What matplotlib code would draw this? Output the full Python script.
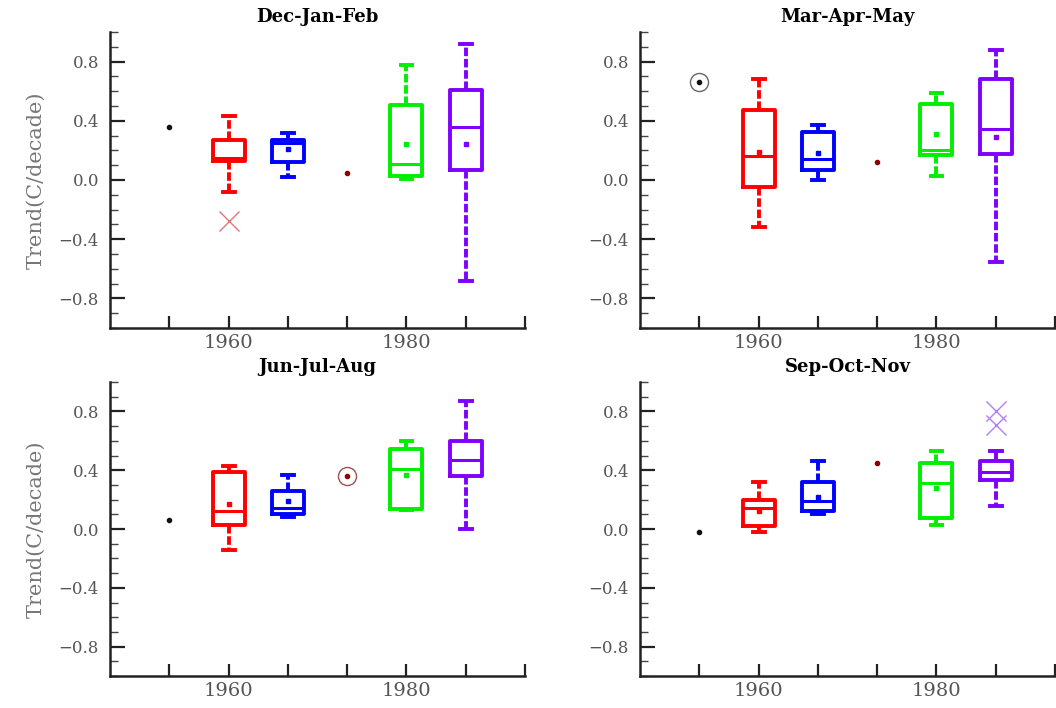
import matplotlib
matplotlib.use('Agg')
import matplotlib.pyplot as plt
import numpy as np

# seasons, one panel each
seasons = ['Dec-Jan-Feb', 'Mar-Apr-May', 'Jun-Jul-Aug', 'Sep-Oct-Nov']

# category slots on the x axis, only two get a label
slot_pos = [1, 2, 3, 4, 5, 6, 7]
slot_labels = ['', '1960', '', '', '1980', '', '']

# single values at slots 1 and 4
point_pos = [1, 4]
point_vals = [[0.36, 0.05], [0.66, 0.12], [0.06, 0.36], [-0.02, 0.45]]
point_circled = [[False, False], [True, False], [False, True], [False, False]]

# box groups (red, blue, green, purple) at slots 2, 3, 5, 6
box_pos = [2, 3, 5, 6]
whis_lo = [[-0.08, 0.02, 0.01, -0.68],
           [-0.32, 0.00, 0.03, -0.555],
           [-0.14, 0.08, 0.13, 0.00],
           [-0.02, 0.105, 0.03, 0.155]]
q1 = [[0.13, 0.125, 0.03, 0.07],
      [-0.05, 0.07, 0.17, 0.175],
      [0.025, 0.105, 0.135, 0.36],
      [0.02, 0.12, 0.075, 0.335]]
med = [[0.15, 0.25, 0.11, 0.36],
       [0.16, 0.14, 0.20, 0.345],
       [0.12, 0.145, 0.41, 0.47],
       [0.14, 0.19, 0.31, 0.39]]
q3 = [[0.27, 0.27, 0.51, 0.61],
      [0.475, 0.325, 0.515, 0.68],
      [0.39, 0.26, 0.545, 0.60],
      [0.20, 0.32, 0.45, 0.46]]
whis_hi = [[0.43, 0.32, 0.78, 0.92],
           [0.68, 0.37, 0.59, 0.88],
           [0.43, 0.37, 0.60, 0.87],
           [0.32, 0.46, 0.53, 0.53]]
# nan where the mean dot is not visible in the picture
means = [[np.nan, 0.21, 0.24, 0.24],
         [0.19, 0.18, 0.31, 0.29],
         [0.17, 0.19, 0.365, np.nan],
         [0.125, 0.22, 0.28, np.nan]]
fliers = [[[-0.28], [], [], []],
          [[], [], [], []],
          [[], [], [], []],
          [[], [], [], [0.80, 0.71]]]

box_colors = ['#ff0000', '#0000ff', '#00ee00', '#8000ff']
flier_colors = ['#e07878', '#8080ff', '#80ff80', '#b080f0']
point_colors = ['#111111', '#8b0000']

fig = plt.figure(figsize=(10.56, 7.08), dpi=100)
W, H = 1056.0, 708.0
# axes rectangles in pixels: left, top, right, bottom
rects = [(110, 32, 525, 328), (640, 32, 1055, 328),
         (110, 382, 525, 676), (640, 382, 1055, 676)]

for k in range(4):
    l, t, r, b = rects[k]
    ax = fig.add_axes([l / W, 1 - b / H, (r - l) / W, (b - t) / H])

    stats = []
    for i in range(4):
        stats.append(dict(whislo=whis_lo[k][i], q1=q1[k][i], med=med[k][i],
                          q3=q3[k][i], whishi=whis_hi[k][i], mean=means[k][i],
                          fliers=fliers[k][i]))
    for i in range(4):
        c = box_colors[i]
        ax.bxp([stats[i]], positions=[box_pos[i]], widths=0.54, capwidths=0.2,
               showmeans=True, showfliers=True,
               boxprops=dict(color=c, lw=2.8),
               medianprops=dict(color=c, lw=2.2),
               whiskerprops=dict(color=c, lw=2.8, linestyle=(0, (2.2, 0.7))),
               capprops=dict(color=c, lw=2.8),
               meanprops=dict(marker='s', markersize=2.5, markerfacecolor=c,
                              markeredgecolor=c),
               flierprops=dict(marker='x', markersize=14, markeredgewidth=1.0,
                               markeredgecolor=flier_colors[i]))

    for j in range(2):
        ax.plot(point_pos[j], point_vals[k][j], marker='o', markersize=3,
                color=point_colors[j], linestyle='none')
        if point_circled[k][j]:
            ec = '#666666' if j == 0 else '#a05050'
            ax.plot(point_pos[j], point_vals[k][j], marker='o', markersize=13,
                    markerfacecolor='none', markeredgecolor=ec,
                    markeredgewidth=1.0, linestyle='none')

    ax.set_xlim(0, 7)
    ax.set_ylim(-1, 1)
    ax.set_xticks(slot_pos)
    ax.set_xticklabels(slot_labels, fontsize=14, family='DejaVu Serif',
                       color='#555555')
    ax.set_yticks([-0.8, -0.4, 0.0, 0.4, 0.8])
    ax.set_yticks(np.arange(-1.0, 1.01, 0.1), minor=True)
    ax.set_yticklabels(['\u22120.8', '\u22120.4', '0.0', '0.4', '0.8'],
                       fontsize=12, family='DejaVu Serif', color='#555555')
    ax.tick_params(axis='x', direction='in', length=9, width=1.6,
                   color='#222222', pad=4)
    ax.tick_params(axis='y', which='major', direction='in', length=11,
                   width=1.6, color='#222222', pad=8)
    ax.tick_params(axis='y', which='minor', direction='in', length=6,
                   width=1.0, color='#444444')
    ax.spines['top'].set_visible(False)
    ax.spines['right'].set_visible(False)
    ax.spines['left'].set_linewidth(1.8)
    ax.spines['bottom'].set_linewidth(1.8)
    ax.spines['left'].set_color('#222222')
    ax.spines['bottom'].set_color('#222222')
    ax.set_title(seasons[k], fontsize=13, fontweight='bold',
                 family='DejaVu Serif', pad=7)
    if k % 2 == 0:
        ax.set_ylabel('Trend(C/decade)', fontsize=15, family='DejaVu Serif',
                      color='#777777', labelpad=9)

fig.savefig('out.png', dpi=100)
